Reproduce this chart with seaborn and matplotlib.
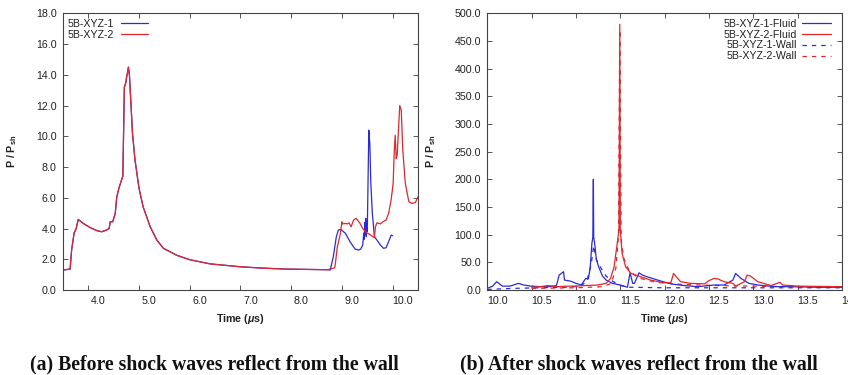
import numpy as np
import pandas as pd
import matplotlib
matplotlib.use("Agg")
import matplotlib.pyplot as plt
import matplotlib.transforms as mtransforms
import seaborn as sns

# ---------------- data ----------------
# (a) common part of both curves (they overlap until ~8.75 us)
t_common = [3.50, 3.64, 3.67, 3.72, 3.76, 3.80, 3.90, 4.03, 4.17, 4.26, 4.36, 4.41, 4.43,
            4.48, 4.53, 4.56, 4.61, 4.68, 4.71, 4.74, 4.76, 4.77, 4.79, 4.81, 4.84, 4.87,
            4.92, 5.00, 5.08, 5.22, 5.35, 5.48, 5.61, 5.75, 6.00, 6.40, 7.00, 7.40, 7.90,
            8.30, 8.70]
p_common = [1.30, 1.36, 2.60, 3.72, 4.00, 4.59, 4.33, 4.07, 3.86, 3.79, 3.90, 4.00, 4.44,
            4.44, 4.98, 6.06, 6.71, 7.40, 13.2, 13.5, 13.97, 14.1, 14.5, 13.97, 12.1, 10.2,
            8.45, 6.60, 5.41, 4.11, 3.25, 2.71, 2.49, 2.25, 1.97, 1.70, 1.51, 1.43, 1.36,
            1.34, 1.32]

t_xyz1_tail = [8.77, 8.83, 8.89, 8.93, 8.98, 9.07, 9.16, 9.26, 9.33, 9.37, 9.41, 9.42,
               9.43, 9.44, 9.45, 9.46, 9.47, 9.48, 9.49, 9.50, 9.53, 9.55, 9.57, 9.60,
               9.64, 9.69, 9.76, 9.82, 9.87, 9.92, 9.97, 10.0]
p_xyz1_tail = [1.30, 2.17, 3.47, 3.90, 3.94, 3.68, 3.14, 2.66, 2.60, 2.66, 2.92, 3.30,
               3.70, 3.30, 4.40, 3.60, 4.66, 3.47, 4.20, 3.80, 10.4, 9.53, 6.93, 4.98,
               3.47, 3.25, 2.92, 2.71, 2.75, 3.14, 3.57, 3.53]

t_xyz2_tail = [8.77, 8.82, 8.86, 8.91, 8.97, 9.00, 9.01, 9.07, 9.11, 9.14, 9.18, 9.23,
               9.28, 9.35, 9.41, 9.49, 9.57, 9.64, 9.66, 9.69, 9.76, 9.81, 9.87, 9.92,
               9.97, 10.01, 10.03, 10.05, 10.07, 10.09, 10.14, 10.17, 10.20, 10.25, 10.32,
               10.38, 10.45, 10.50]
p_xyz2_tail = [1.36, 1.41, 1.45, 2.82, 3.68, 4.44, 4.30, 4.33, 4.30, 4.37, 4.11, 4.55,
               4.66, 4.37, 4.00, 3.72, 3.57, 3.40, 4.10, 4.37, 4.30, 4.44, 4.55, 4.98,
               5.85, 6.93, 8.88, 10.07, 8.56, 8.80, 12.0, 11.7, 9.10, 6.93, 5.74,
               5.63, 5.70, 6.06]

# (b) after reflection
t_b1_fluid = [10.0, 10.06, 10.105, 10.13, 10.17, 10.26, 10.35, 10.41, 10.49, 10.6, 10.7,
              10.78, 10.81, 10.86, 10.87, 10.94, 11.0, 11.06, 11.11, 11.14, 11.16, 11.18,
              11.19, 11.196, 11.20, 11.21, 11.23, 11.26, 11.30, 11.34, 11.41, 11.5, 11.58,
              11.61, 11.64, 11.66, 11.71, 11.75, 11.8, 11.92, 12.07, 12.22, 12.37, 12.56,
              12.67, 12.77, 12.80, 12.86, 12.95, 13.05, 13.24, 13.42, 13.7, 14.0]
p_b1_fluid = [3, 7, 15, 12, 7, 7, 12, 9, 7, 6, 6,
              8, 27, 33, 18, 16, 12, 9, 21, 20, 40, 85,
              95, 200, 95, 85, 55, 40, 25, 18, 12, 9, 5,
              31, 12, 12, 31, 27, 24, 18, 11, 8, 6, 9,
              9, 18, 30, 21, 12, 9, 6, 6, 5, 5]

t_b2_fluid = [10.5, 10.6, 10.68, 10.8, 10.9, 11.0, 11.1, 11.24, 11.34, 11.39, 11.43, 11.45,
              11.47, 11.485, 11.494, 11.50, 11.52, 11.56, 11.62, 11.73, 11.84, 11.99, 12.07,
              12.10, 12.13, 12.18, 12.29, 12.45, 12.50, 12.56, 12.6, 12.67, 12.77, 12.8,
              12.9, 12.93, 12.97, 13.05, 13.2, 13.3, 13.33, 13.5, 14.0]
p_b2_fluid = [5, 6, 8, 6, 7, 7, 8, 9, 12, 21, 42, 66,
              90, 108, 480, 108, 66, 42, 30, 24, 18, 13, 13,
              30, 24, 15, 12, 11, 17, 21, 20, 15, 12, 7,
              15, 27, 25, 15, 8, 14, 9, 7, 6]

t_b1_wall = [10.0, 10.3, 10.6, 10.9, 11.05, 11.12, 11.17, 11.20, 11.23, 11.28, 11.34, 11.42,
             11.5, 11.6, 12.0, 12.5, 13.0, 13.5, 14.0]
p_b1_wall = [1, 3, 4, 5, 7, 15, 45, 80, 55, 40, 25, 15, 8, 5, 4, 4, 4, 4, 4]

t_b2_wall = [10.5, 11.0, 11.3, 11.4, 11.45, 11.48, 11.494, 11.51, 11.54, 11.6, 11.7, 11.9,
             12.2, 12.6, 13.0, 13.5, 14.0]
p_b2_wall = [3, 4, 6, 12, 40, 100, 470, 90, 57, 35, 22, 14, 10, 8, 7, 6, 5]

labels_a = ["5B-XYZ-1", "5B-XYZ-2"]
labels_b = ["5B-XYZ-1-Fluid", "5B-XYZ-2-Fluid", "5B-XYZ-1-Wall", "5B-XYZ-2-Wall"]
yticks_a = np.arange(0, 18.1, 2.0)
xticks_a = np.arange(4.0, 10.1, 1.0)
yticks_b = np.arange(0, 500.1, 50.0)
xticks_b = np.arange(10.0, 14.01, 0.5)

# ---------------- styling ----------------
sns.set_theme(style="ticks")
plt.rcParams["font.family"] = ["Liberation Sans", "DejaVu Sans"]
plt.rcParams["mathtext.fontset"] = "custom"
plt.rcParams["mathtext.rm"] = "Liberation Sans:bold"
plt.rcParams["mathtext.it"] = "Liberation Sans:bold:italic"
plt.rcParams["mathtext.bf"] = "Liberation Sans:bold"

BLUE = "#2a2ad8"
RED = "#e2262c"
TXT = "#222222"
FS = 7.7
LW = 0.9

fig = plt.figure(figsize=(8.48, 3.75), dpi=100)
W, H = 848, 375
axA = fig.add_axes([63 / W, 1 - 290 / H, 355 / W, 276.7 / H])
axB = fig.add_axes([487.3 / W, 1 - 290 / H, 354.7 / W, 276.7 / H])

dfA1 = pd.DataFrame({"t": t_common + t_xyz1_tail, "p": p_common + p_xyz1_tail})
dfA2 = pd.DataFrame({"t": t_common + t_xyz2_tail, "p": p_common + p_xyz2_tail})
sns.lineplot(data=dfA1, x="t", y="p", ax=axA, color=BLUE, lw=LW, sort=False,
             estimator=None, label=labels_a[0])
sns.lineplot(data=dfA2, x="t", y="p", ax=axA, color=RED, lw=LW, sort=False,
             estimator=None, label=labels_a[1])

dash = (0, (3.5, 4))
sns.lineplot(x=t_b1_wall, y=p_b1_wall, ax=axB, color=BLUE, lw=LW, linestyle=dash,
             sort=False, estimator=None, label=labels_b[2])
sns.lineplot(x=t_b2_wall, y=p_b2_wall, ax=axB, color=RED, lw=LW, linestyle=dash,
             sort=False, estimator=None, label=labels_b[3])
sns.lineplot(x=t_b1_fluid, y=p_b1_fluid, ax=axB, color=BLUE, lw=LW, sort=False,
             estimator=None, label=labels_b[0])
sns.lineplot(x=t_b2_fluid, y=p_b2_fluid, ax=axB, color=RED, lw=LW, sort=False,
             estimator=None, label=labels_b[1])

axA.set_xlim(3.5, 10.5)
axA.set_ylim(0, 18)
axA.set_xticks(xticks_a)
axA.set_yticks(yticks_a)
axB.set_xlim(10.0, 14.0)
axB.set_ylim(0, 500)
axB.set_xticks(xticks_b)
axB.set_yticks(yticks_b)

for ax in (axA, axB):
    ax.xaxis.set_major_formatter(matplotlib.ticker.FormatStrFormatter("%.1f"))
    ax.yaxis.set_major_formatter(matplotlib.ticker.FormatStrFormatter("%.1f"))
    ax.tick_params(direction="in", length=3.5, width=0.7, colors="#555555",
                   labelcolor=TXT, labelsize=FS, top=True, right=True, pad=4.5)
    for s in ax.spines.values():
        s.set_visible(True)
        s.set_color("#444444")
        s.set_linewidth(0.8)
    ax.set_xlabel(r"Time ($\mu$s)", fontsize=FS, fontweight="bold", color=TXT, labelpad=4)
    ax.set_ylabel(r"P / P$_{\mathregular{sh}}$", fontsize=FS, fontweight="bold",
                  color=TXT, labelpad=12)
    ax.set_facecolor("white")
    # shift x tick labels slightly right, as in the reference
    off = mtransforms.ScaledTranslation(10 / 100, 0, fig.dpi_scale_trans)
    for tk in ax.xaxis.get_major_ticks():
        tk.label1.set_transform(tk.label1.get_transform() + off)

# legends (text first, then line sample)
hA, lA = axA.get_legend_handles_labels()
legA = axA.legend(hA, lA, loc="upper left", bbox_to_anchor=(0.014, 0.981),
                  frameon=False, markerfirst=False, fontsize=FS, borderpad=0,
                  borderaxespad=0, handlelength=2.5, handletextpad=0.65,
                  labelspacing=0.09)
hB, lB = axB.get_legend_handles_labels()
order = [lB.index(l) for l in labels_b]
legB = axB.legend([hB[i] for i in order], [lB[i] for i in order], loc="upper right",
                  bbox_to_anchor=(0.970, 0.981), frameon=False, markerfirst=False,
                  fontsize=FS, borderpad=0, borderaxespad=0, handlelength=2.7,
                  handletextpad=0.5, labelspacing=0.09)
for leg in (legA, legB):
    for t in leg.get_texts():
        t.set_color(TXT)

fig.text(214 / W, 1 - 364 / H, "(a) Before shock waves reflect from the wall",
         ha="center", va="center", fontsize=14.2, fontweight="bold",
         family=["Liberation Serif", "DejaVu Serif"], color="#111111")
fig.text(639 / W, 1 - 364 / H, "(b) After shock waves reflect from the wall",
         ha="center", va="center", fontsize=14.2, fontweight="bold",
         family=["Liberation Serif", "DejaVu Serif"], color="#111111")

fig.savefig("out.png", dpi=100, facecolor="white")
